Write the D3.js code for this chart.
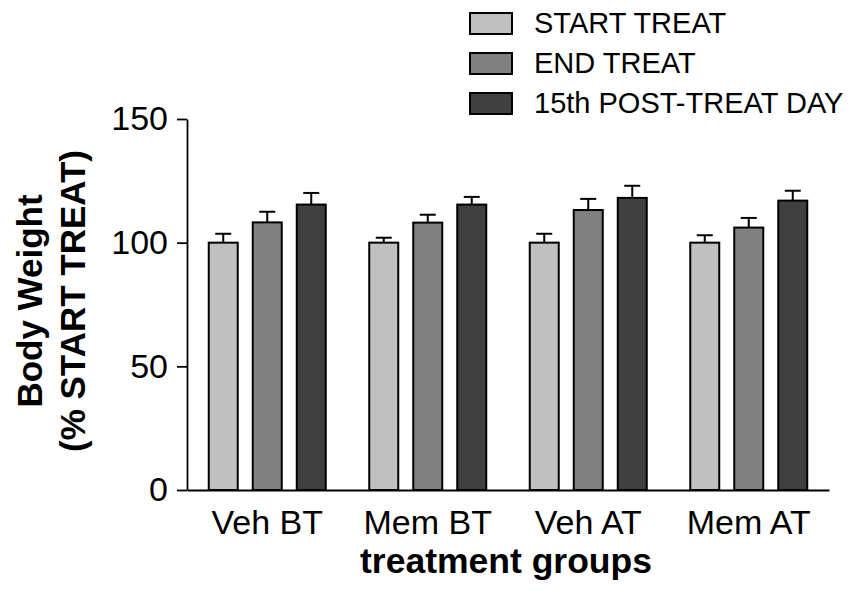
<!DOCTYPE html>
<html>
<head>
<meta charset="utf-8">
<script src="https://cdn.jsdelivr.net/npm/d3@7"></script>
<style>
  html, body { margin: 0; padding: 0; background: #fff; }
  svg { display: block; font-family: "Liberation Sans", Arial, Helvetica, sans-serif; }
</style>
</head>
<body>
<svg id="chart" width="857" height="595"></svg>
<script>
// Treatment groups on the x axis
const groups = ["Veh BT", "Mem BT", "Veh AT", "Mem AT"];
// Time points (one bar per group each)
const seriesNames = ["START TREAT", "END TREAT", "15th POST-TREAT DAY"];
// Mean body weight, % of start-of-treatment weight
const startTreat = [100, 100, 100, 100];
const endTreat = [108.2, 108.1, 113.2, 106.1];
const postTreat = [115.4, 115.4, 118.1, 117.0];
// SEM for each bar
const startErr = [3.6, 2.0, 3.6, 3.0];
const endErr = [4.3, 3.2, 4.5, 3.9];
const postErr = [4.7, 3.1, 4.9, 4.0];
// Y axis ticks
const yTicks = [0, 50, 100, 150];

const seriesValues = [startTreat, endTreat, postTreat];
const seriesErrors = [startErr, endErr, postErr];
const colors = ["#c0c0c0", "#808080", "#404040"];

const svg = d3.select("#chart");

const x0 = d3.scaleBand().domain(groups).range([187, 829])
  .paddingInner(0.271).paddingOuter(0.1355);
const x1 = d3.scaleBand().domain(seriesNames).range([0, x0.bandwidth()])
  .paddingInner(0.341).paddingOuter(0);
const y = d3.scaleLinear().domain([0, 150]).range([490, 119]);

// Build a flat list of bars
const bars = [];
groups.forEach((g, gi) => {
  seriesNames.forEach((s, si) => {
    bars.push({ group: g, series: s, si, value: seriesValues[si][gi], err: seriesErrors[si][gi] });
  });
});

// Error bars (upper whisker only), drawn behind the bars
const eb = svg.append("g").attr("stroke", "#000").attr("stroke-width", 2);
bars.forEach(d => {
  const cx = x0(d.group) + x1(d.series) + x1.bandwidth() / 2;
  eb.append("line").attr("x1", cx).attr("x2", cx)
    .attr("y1", y(d.value)).attr("y2", y(d.value + d.err));
  eb.append("line").attr("x1", cx - 8).attr("x2", cx + 8)
    .attr("y1", y(d.value + d.err)).attr("y2", y(d.value + d.err));
});

// Bars
svg.append("g").selectAll("rect").data(bars).join("rect")
  .attr("x", d => x0(d.group) + x1(d.series))
  .attr("y", d => y(d.value))
  .attr("width", x1.bandwidth())
  .attr("height", d => y(0) - y(d.value))
  .attr("fill", d => colors[d.si])
  .attr("stroke", "#000")
  .attr("stroke-width", 2);

// Y axis
const yAxis = svg.append("g").attr("transform", "translate(187,0)")
  .call(d3.axisLeft(y).tickValues(yTicks).tickSize(10).tickSizeOuter(0).tickPadding(9));
yAxis.select(".domain").attr("stroke", "#000").attr("stroke-width", 1.8);
yAxis.selectAll(".tick line").attr("stroke", "#000").attr("stroke-width", 1.8);
yAxis.selectAll(".tick text").attr("font-size", 34).attr("fill", "#000")
  .attr("font-family", "Liberation Sans, Arial, sans-serif");

// X axis (baseline line, no tick marks)
const xAxis = svg.append("g").attr("transform", "translate(0,490)")
  .call(d3.axisBottom(x0).tickSize(0).tickSizeOuter(0));
xAxis.select(".domain").attr("stroke", "#000").attr("stroke-width", 1.8);
xAxis.selectAll(".tick text").attr("font-size", 34).attr("fill", "#000")
  .attr("dy", 0).attr("y", 44)
  .attr("font-family", "Liberation Sans, Arial, sans-serif");

// Axis titles
svg.append("text").attr("x", 506).attr("y", 573)
  .attr("text-anchor", "middle").attr("font-size", 35.5).attr("font-weight", "bold")
  .text("treatment groups");

const yTitle = svg.append("text").attr("transform", "translate(42,301) rotate(-90)")
  .attr("text-anchor", "middle").attr("font-size", 35).attr("font-weight", "bold");
yTitle.append("tspan").attr("x", 0).attr("y", 0).text("Body Weight");
yTitle.append("tspan").attr("x", 0).attr("y", 43).text("(% START TREAT)");

// Legend
const legend = svg.append("g");
seriesNames.forEach((s, i) => {
  const ly = 13 + i * 40;
  legend.append("rect").attr("x", 470).attr("y", ly).attr("width", 42).attr("height", 21)
    .attr("fill", colors[i]).attr("stroke", "#000").attr("stroke-width", 2);
  legend.append("text").attr("x", 534).attr("y", ly + 20)
    .attr("font-size", 29).attr("fill", "#000").text(s);
});
</script>
</body>
</html>
